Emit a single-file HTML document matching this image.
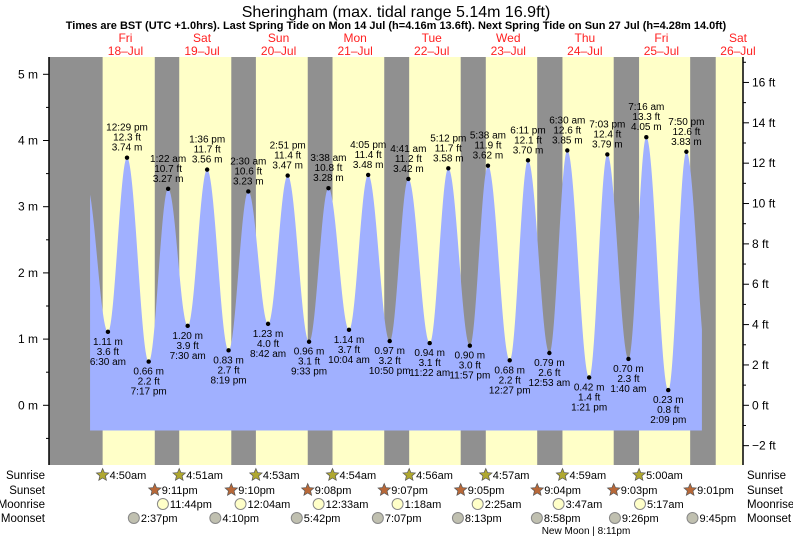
<!DOCTYPE html>
<html><head><meta charset="utf-8"><style>
body{margin:0;background:#fff;}
svg{font-family:"Liberation Sans",sans-serif;display:block;}
</style></head><body>
<svg id="c" width="793" height="539" xmlns="http://www.w3.org/2000/svg">
<text x="396" y="17" font-size="16" text-anchor="middle" fill="#000">Sheringham (max. tidal range 5.14m 16.9ft)</text>
<text x="396" y="29" font-size="11" font-weight="bold" text-anchor="middle">Times are BST (UTC +1.0hrs). Last Spring Tide on Mon 14 Jul (h=4.16m 13.6ft). Next Spring Tide on Sun 27 Jul (h=4.28m 14.0ft)</text>
<g id="bg"></g><g id="tide"></g><g id="axes"></g><g id="labels"></g><g id="astro"></g>
</svg>
<script>
const tideTimes=[-0.3,6.5,12.48,19.28,25.37,31.5,37.6,44.32,50.5,56.7,62.85,69.55,75.63,82.07,88.08,94.83,100.68,107.37,113.2,119.95,125.63,132.45,138.18,144.88,150.5,157.35,163.05,169.67,175.27,182.15,187.83,194.6];
const tideHeights=[3.35,1.11,3.74,0.66,3.27,1.20,3.56,0.83,3.23,1.23,3.47,0.96,3.28,1.14,3.48,0.97,3.42,0.94,3.58,0.90,3.62,0.68,3.70,0.79,3.85,0.42,3.79,0.70,4.05,0.23,3.83,0.55];
const tideLabels=["","6:30 am","12:29 pm","7:17 pm","1:22 am","7:30 am","1:36 pm","8:19 pm","2:30 am","8:42 am","2:51 pm","9:33 pm","3:38 am","10:04 am","4:05 pm","10:50 pm","4:41 am","11:22 am","5:12 pm","11:57 pm","5:38 am","12:27 pm","6:11 pm","12:53 am","6:30 am","1:21 pm","7:03 pm","1:40 am","7:16 am","2:09 pm","7:50 pm",""];
const dayNames=["Fri","Sat","Sun","Mon","Tue","Wed","Thu","Fri","Sat"];
const dayDates=["18\u2013Jul","19\u2013Jul","20\u2013Jul","21\u2013Jul","22\u2013Jul","23\u2013Jul","24\u2013Jul","25\u2013Jul","26\u2013Jul"];
const sunriseH=[4.833,4.85,4.883,4.9,4.933,4.95,4.983,5.0,5.033];
const sunriseL=["4:50am","4:51am","4:53am","4:54am","4:56am","4:57am","4:59am","5:00am",""];
const sunsetH=[21.183,21.167,21.133,21.117,21.083,21.067,21.05,21.017];
const sunsetL=["9:11pm","9:10pm","9:08pm","9:07pm","9:05pm","9:04pm","9:03pm","9:01pm"];
const moonriseT=[23.733,48.067,72.55,97.3,122.417,147.783,173.283];
const moonriseL=["11:44pm","12:04am","12:33am","1:18am","2:25am","3:47am","5:17am"];
const moonsetT=[14.617,40.167,65.7,91.117,116.217,140.967,165.433,189.75];
const moonsetL=["2:37pm","4:10pm","5:42pm","7:07pm","8:13pm","8:58pm","9:26pm","9:45pm"];
const mTicks=[0,1,2,3,4,5];
const ftTicks=[-2,0,2,4,6,8,10,12,14,16];

const NS="http://www.w3.org/2000/svg";
const X0=49,X1=743,Y0=57,Y1=465;
const xT=t=>87.2+t*3.19;
const yM=m=>405.3-m*66.2;
function el(tag,attrs,parent,text){const e=document.createElementNS(NS,tag);for(const k in attrs)e.setAttribute(k,attrs[k]);if(text!==undefined)e.textContent=text;parent.appendChild(e);return e;}
const bg=document.getElementById('bg'),tide=document.getElementById('tide'),ax=document.getElementById('axes'),lb=document.getElementById('labels'),as=document.getElementById('astro');

let r=el('rect',{x:X0,y:Y0,width:X1-X0,height:Y1-Y0,fill:'#909090'},bg);


for(let d=0;d<9;d++){
  const a=xT(d*24+sunriseH[d]);const b=d<8?xT(d*24+sunsetH[d]):X1;
  const rr=el('rect',{x:a,y:Y0,width:Math.min(b,X1)-a,height:Y1-Y0,fill:'#ffffc8'},bg);
  
  
  const cx=xT(d*24+12);
  const t1=el('text',{x:cx,y:42,'font-size':12,'text-anchor':'middle',fill:'#ff2020'},ax,dayNames[d]);
  
  
  const t2=el('text',{x:cx,y:55,'font-size':12,'text-anchor':'middle',fill:'#ff2020'},ax,dayDates[d]);
  
  
}
function hAt(t){for(let i=0;i<tideTimes.length-1;i++){if(t>=tideTimes[i]&&t<=tideTimes[i+1]){const f=(t-tideTimes[i])/(tideTimes[i+1]-tideTimes[i]);return tideHeights[i]+(tideHeights[i+1]-tideHeights[i])*(1-Math.cos(Math.PI*f))/2;}}return tideHeights[0];}
const tS=0.9,tE=192.7,base=-0.38;
let d=`M${xT(tS)},${yM(base)}`;
for(let t=tS;t<=tE;t+=0.1)d+=`L${xT(t).toFixed(2)},${yM(hAt(t)).toFixed(2)}`;
d+=`L${xT(tE)},${yM(hAt(tE))}L${xT(tE)},${yM(base)}Z`;
const p=el('path',{d:d,fill:'#a0b0ff'},tide);


for(let i=1;i<tideTimes.length-1;i++){
  const x=xT(tideTimes[i]),y=yM(tideHeights[i]),high=tideHeights[i]>tideHeights[i-1];
  const c=el('circle',{cx:x,cy:y,r:2.2,fill:'#000'},lb);
  
  
  const m=tideHeights[i].toFixed(2)+' m',ft=(tideHeights[i]*3.2808).toFixed(1)+' ft';
  const lines=high?[tideLabels[i],ft,m]:[m,ft,tideLabels[i]];
  lines.forEach((s,j)=>{const yy=high?y-27+j*10:y+13+j*10;
    const tx=el('text',{x:x,y:yy,'font-size':10,'text-anchor':'middle',fill:'#000'},lb,s);
    
    });
}
el('line',{x1:X0,y1:Y0,x2:X0,y2:Y1,stroke:'#000','stroke-width':1.5},ax);
el('line',{x1:X1,y1:Y0,x2:X1,y2:Y1,stroke:'#000','stroke-width':1.5},ax);
for(let m=-0.5;m<=5.2;m+=0.5){el('line',{x1:X0-(m%1===0?6:3),y1:yM(m),x2:X0,y2:yM(m),stroke:'#000'},ax);}
mTicks.forEach(m=>{const t=el('text',{x:38,y:yM(m)+4,'font-size':12,'text-anchor':'end'},ax,m+' m');
  
  });
for(let f=-2;f<=17;f++){const y=yM(f/3.2808);if(y<Y0)continue;el('line',{x1:X1,y1:y,x2:X1+(f%2===0?6:3),y2:y,stroke:'#000'},ax);}
ftTicks.forEach(f=>{const t=el('text',{x:752,y:yM(f/3.2808)+4,'font-size':12},ax,(f<0?'\u2212'+(-f):f)+' ft');
  
  });
const rows=[["Sunrise",475],["Sunset",490],["Moonrise",504],["Moonset",518]];
rows.forEach(([n,y])=>{
  const a=el('text',{x:45,y:y+4,'font-size':11.5,'text-anchor':'end'},as,n);
  
  
  const b=el('text',{x:747,y:y+4,'font-size':11.5},as,n);
  
  });
function star(cx,cy,fill){let s='';for(let k=0;k<10;k++){const rr=k%2?3:6.5,a=-Math.PI/2+k*Math.PI/5;s+=(cx+rr*Math.cos(a)).toFixed(1)+','+(cy+rr*Math.sin(a)).toFixed(1)+' ';}return el('polygon',{points:s,fill:fill,stroke:'#555','stroke-width':0.7},as);}
function lab(x,y,s){const t=el('text',{x:x,y:y+4,'font-size':11},as,s);}
for(let i=0;i<8;i++){const x=xT(i*24+sunriseH[i]);const s=star(x,475,'#b0a830');lab(x+7,475,sunriseL[i]);}
for(let i=0;i<8;i++){const x=xT(i*24+sunsetH[i]);const s=star(x,490,'#b86838');lab(x+7,490,sunsetL[i]);}
moonriseT.forEach((t,i)=>{const x=xT(t);const c=el('circle',{cx:x,cy:504,r:5.5,fill:'#ffffc8',stroke:'#888'},as);lab(x+7,504,moonriseL[i]);});
moonsetT.forEach((t,i)=>{const x=xT(t);const c=el('circle',{cx:x,cy:518,r:5.5,fill:'#c0c0b0',stroke:'#888'},as);lab(x+7,518,moonsetL[i]);});
const nm=el('text',{x:586,y:534,'font-size':10,'text-anchor':'middle'},as,'New Moon | 8:11pm');


</script>
</body></html>
